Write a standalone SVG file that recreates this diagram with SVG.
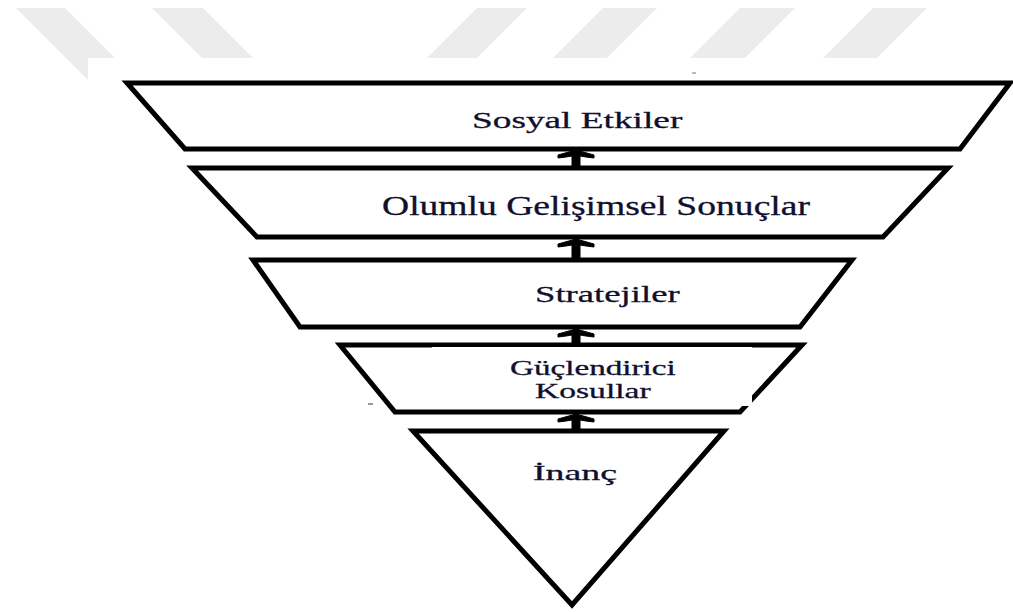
<svg xmlns="http://www.w3.org/2000/svg" width="1013" height="612" viewBox="0 0 1013 612">
<style>
.wm{fill:#ececec}
.shape{fill:#ffffff;stroke:#000000;stroke-width:5;stroke-linejoin:miter}
.lbl{font-family:"Liberation Serif","Times New Roman",serif;fill:#10102e;stroke:#10102e;stroke-width:0.3}
.arrow{fill:#000000;stroke:#000000;stroke-width:1}
</style>
<rect x="0" y="0" width="1013" height="612" fill="#ffffff"/>
<g id="watermark">
<polygon class="wm" points="16,8 65,8 137,80 88,80"/>
<polygon class="wm" points="152,8 203,8 253,58 202,58"/>
<polygon class="wm" points="477,8 527,8 477,58 427,58"/>
<polygon class="wm" points="603,8 657,8 607,58 553,58"/>
<polygon class="wm" points="740,8 795,8 745,58 690,58"/>
<polygon class="wm" points="873,8 927,8 877,58 823,58"/>
<rect x="88" y="58" width="925" height="554" fill="#ffffff"/>
</g>
<rect x="692" y="72" width="4" height="2" fill="#bbbbbb"/>
<rect x="368" y="403" width="5" height="2" fill="#999999"/>
<g id="node-sosyal">
<polygon class="shape" points="127,83 1010,83 960,149 185,149"/>
<text class="lbl" transform="translate(472,128) scale(1.555,1)" font-size="24">Sosyal Etkiler</text>
</g>
<g id="node-olumlu">
<polygon class="shape" points="192,168 948,168 883,237 257,237"/>
<text class="lbl" transform="translate(382,215) scale(1.392,1)" font-size="27">Olumlu Gelişimsel Sonuçlar</text>
</g>
<g id="node-stratejiler">
<polygon class="shape" points="253,260 852,260 800,327 300,327"/>
<text class="lbl" transform="translate(535,302) scale(1.53,1)" font-size="24">Stratejiler</text>
</g>
<g id="node-guclendirici">
<polygon class="shape" points="340,345 802,345 740,412 395,412"/>
<rect x="432" y="347" width="320" height="59" fill="#ffffff"/>
<text class="lbl" transform="translate(510,375) scale(1.58,1)" font-size="21">Güçlendirici</text>
<text class="lbl" transform="translate(535,398) scale(1.6,1)" font-size="21">Kosullar</text>
</g>
<g id="node-inanc">
<polygon class="shape" points="413,431 724,431 572,605"/>
<text class="lbl" transform="translate(533,480) scale(1.72,1)" font-size="22">İnanç</text>
</g>
<g id="connectors">
<path class="arrow" d="M576,150 L558,155 L558,158 L566,157 L572,156 L572,168 L580,168 L580,156 L586,157 L594,158 L594,155 Z"/>
<path class="arrow" d="M576,239 L558,244 L558,247 L566,246 L572,245 L572,260 L580,260 L580,245 L586,246 L594,247 L594,244 Z"/>
<path class="arrow" d="M576,329 L558,334 L558,337 L566,336 L572,335 L572,345 L580,345 L580,335 L586,336 L594,337 L594,334 Z"/>
<path class="arrow" d="M576,414 L558,419 L558,422 L566,421 L572,420 L572,431 L580,431 L580,420 L586,421 L594,422 L594,419 Z"/>
</g>
</svg>
